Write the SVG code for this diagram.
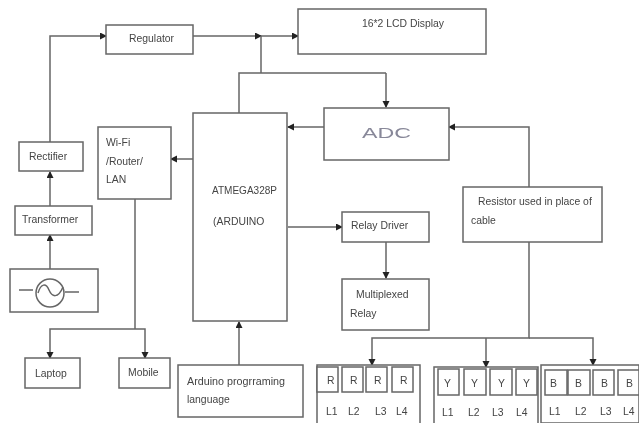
<svg xmlns="http://www.w3.org/2000/svg" width="639" height="423" viewBox="0 0 639 423">
<defs>
<marker id="a" markerWidth="8" markerHeight="8" refX="6" refY="3.5" orient="auto" markerUnits="userSpaceOnUse"><path d="M0 0L7 3.5L0 7Z" fill="#222"/></marker>
<filter id="b" filterUnits="userSpaceOnUse" x="0" y="0" width="639" height="423"><feGaussianBlur stdDeviation="0.5"/></filter>
</defs>
<style>
.n{fill:#fff;stroke:#666;stroke-width:1.5}
.c{fill:none;stroke:#666;stroke-width:1.5}
.e{marker-end:url(#a)}
text{font-family:"Liberation Sans",Arial,sans-serif;font-size:10.4px;fill:#444}
</style>
<rect width="639" height="423" fill="#fff"/>
<g filter="url(#b)">
<g id="connectors">
<path class="c e" d="M50 142V36H106"/>
<path class="c e" d="M50 206V172"/>
<path class="c e" d="M50 269V235"/>
<path class="c e" d="M193 36H261"/>
<path class="c e" d="M261 36H298"/>
<path class="c" d="M261 36V73"/>
<path class="c" d="M239 113V73H386"/>
<path class="c e" d="M386 73V107"/>
<path class="c e" d="M324 127H288"/>
<path class="c e" d="M193 159H171"/>
<path class="c" d="M135 199V329"/>
<path class="c e" d="M135 329H50V358"/>
<path class="c e" d="M135 329H145V358"/>
<path class="c e" d="M239 365V322"/>
<path class="c e" d="M288 227H342"/>
<path class="c e" d="M386 242V278"/>
<path class="c e" d="M529 187V127H449"/>
<path class="c e" d="M529 242V338H372V365"/>
<path class="c e" d="M486 338V367"/>
<path class="c e" d="M529 338H593V365"/>
</g>
<g id="regulator"><rect class="n" x="106" y="25" width="87" height="29"/><text x="129" y="42">Regulator</text></g>
<g id="lcd"><rect class="n" x="298" y="9" width="188" height="45"/><text x="362" y="27">16*2  LCD Display</text></g>
<g id="rectifier"><rect class="n" x="19" y="142" width="64" height="29"/><text x="29" y="160">Rectifier</text></g>
<g id="transformer"><rect class="n" x="15" y="206" width="77" height="29"/><text x="22" y="223">Transformer</text></g>
<g id="source"><rect class="n" x="10" y="269" width="88" height="43"/><circle class="c" cx="50" cy="293" r="14"/><path class="c" d="M19 290H33M38 293C41 283 46 283 49 290S58 299 63 287M65 292H79"/></g>
<g id="wifi"><rect class="n" x="98" y="127" width="73" height="72"/><text x="106" y="146">Wi-Fi</text><text x="106" y="165">/Router/</text><text x="106" y="183">LAN</text></g>
<g id="atmega"><rect class="n" x="193" y="113" width="94" height="208"/><text x="212" y="194" textLength="65" lengthAdjust="spacingAndGlyphs">ATMEGA328P</text><text x="213" y="225">(ARDUINO</text></g>
<g id="adc"><rect class="n" x="324" y="108" width="125" height="52"/><text x="362" y="138" textLength="49" lengthAdjust="spacingAndGlyphs" style="font-size:15px;fill:#889">ADC</text></g>
<g id="resistor"><rect class="n" x="463" y="187" width="139" height="55"/><text x="478" y="205">Resistor used in place of</text><text x="471" y="224">cable</text></g>
<g id="relay-driver"><rect class="n" x="342" y="212" width="87" height="30"/><text x="351" y="229">Relay Driver</text></g>
<g id="multiplexed-relay"><rect class="n" x="342" y="279" width="87" height="51"/><text x="356" y="298">Multiplexed</text><text x="350" y="317">Relay</text></g>
<g id="laptop"><rect class="n" x="25" y="358" width="55" height="30"/><text x="35" y="377">Laptop</text></g>
<g id="mobile"><rect class="n" x="119" y="358" width="51" height="30"/><text x="128" y="376">Mobile</text></g>
<g id="programming"><rect class="n" x="178" y="365" width="125" height="52"/><text x="187" y="385" textLength="98" lengthAdjust="spacingAndGlyphs">Arduino progrraming</text><text x="187" y="403">language</text></g>
<g id="red"><rect class="n" x="317" y="365" width="103" height="60"/>
<rect class="n" x="317" y="367" width="21" height="25"/><rect class="n" x="342" y="367" width="21" height="25"/><rect class="n" x="366" y="367" width="21" height="25"/><rect class="n" x="392" y="367" width="21" height="25"/>
<text x="327" y="384">R</text><text x="350" y="384">R</text><text x="374" y="384">R</text><text x="400" y="384">R</text>
<text x="326" y="415">L1</text><text x="348" y="415">L2</text><text x="375" y="415">L3</text><text x="396" y="415">L4</text></g>
<g id="yellow"><rect class="n" x="434" y="367" width="104" height="58"/>
<rect class="n" x="438" y="369" width="21" height="26"/><rect class="n" x="464" y="369" width="22" height="26"/><rect class="n" x="490" y="369" width="22" height="26"/><rect class="n" x="516" y="369" width="21" height="26"/>
<text x="444" y="387">Y</text><text x="471" y="387">Y</text><text x="498" y="387">Y</text><text x="523" y="387">Y</text>
<text x="442" y="416">L1</text><text x="468" y="416">L2</text><text x="492" y="416">L3</text><text x="516" y="416">L4</text></g>
<g id="blue"><rect class="n" x="541" y="365" width="98" height="58"/>
<rect class="n" x="545" y="370" width="22" height="25"/><rect class="n" x="568" y="370" width="22" height="25"/><rect class="n" x="593" y="370" width="21" height="25"/><rect class="n" x="618" y="370" width="21" height="25"/>
<text x="550" y="387">B</text><text x="575" y="387">B</text><text x="601" y="387">B</text><text x="626" y="387">B</text>
<text x="549" y="415">L1</text><text x="575" y="415">L2</text><text x="600" y="415">L3</text><text x="623" y="415">L4</text></g>
</g>
</svg>
